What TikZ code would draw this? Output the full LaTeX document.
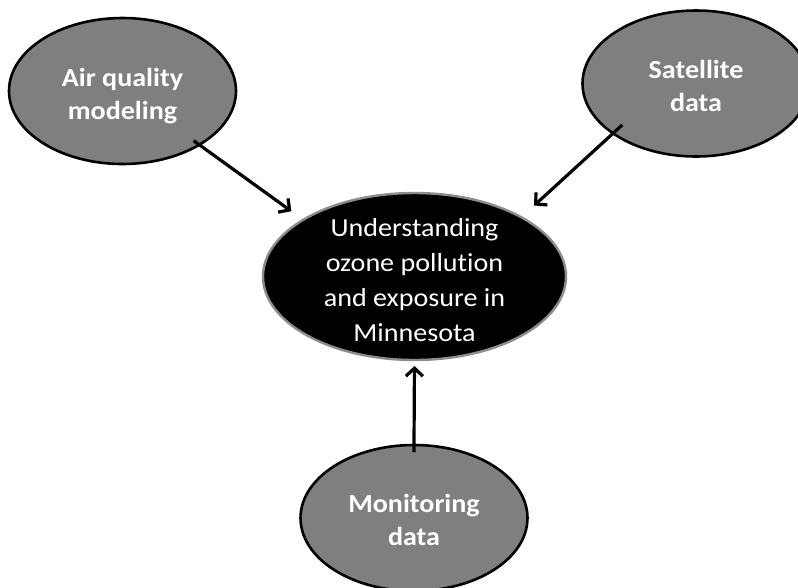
\documentclass[tikz,border=0pt]{standalone}
\usepackage{fontspec}
\setmainfont{Carlito}[FakeStretch=1.08,Ligatures=NoCommon]
\usetikzlibrary{shapes.geometric,arrows.meta}
\definecolor{fillgray}{HTML}{7F7F7F}
\definecolor{rimgray}{HTML}{8C8C8C}
\newcommand{\lowerby}[1]{\rule{0pt}{#1}}
\begin{document}
\begin{tikzpicture}[x=1pt,y=-1pt,
  src/.style={ellipse, draw=black, line width=2.6pt, fill=fillgray, text=white,
    font=\fontsize{26}{33}\selectfont\bfseries, align=center,
    inner sep=0pt, outer sep=0pt, minimum width=227pt, minimum height=146pt},
  hub/.style={ellipse, draw=rimgray, line width=2.4pt, fill=black, text=white,
    font=\fontsize{26}{35}\selectfont, align=center,
    inner xsep=0pt, inner ysep=-30pt, outer sep=0pt,
    minimum width=303pt, minimum height=167pt},
  arr/.style={line width=3.2pt, -{Straight Barb[length=8pt,width=17pt]}}]
\useasboundingbox (0,0) rectangle (798,587);
\node[src] (aq) at (122.5,91) {\lowerby{28pt}Air quality\\modeling};
\node[src] (sat) at (696,83.5) {\lowerby{22.5pt}Satellite\\data};
\node[hub] (c) at (414.5,276.5) {\lowerby{24.5pt}Understanding\\ozone pollution\\and exposure in\\Minnesota};
\node[src] (mon) at (414,518) {\lowerby{22.5pt}Monitoring\\data};
\draw[arr, shorten <=-7pt, shorten >=14.7pt] (aq.-35) -- (c.153.7);
\draw[arr, shorten <=-12.5pt, shorten >=17.4pt] (sat.211.3) -- (c.29.6);
\draw[arr, shorten <=-7pt, shorten >=6pt] (mon.90) -- (c.-90);
\end{tikzpicture}
\end{document}
